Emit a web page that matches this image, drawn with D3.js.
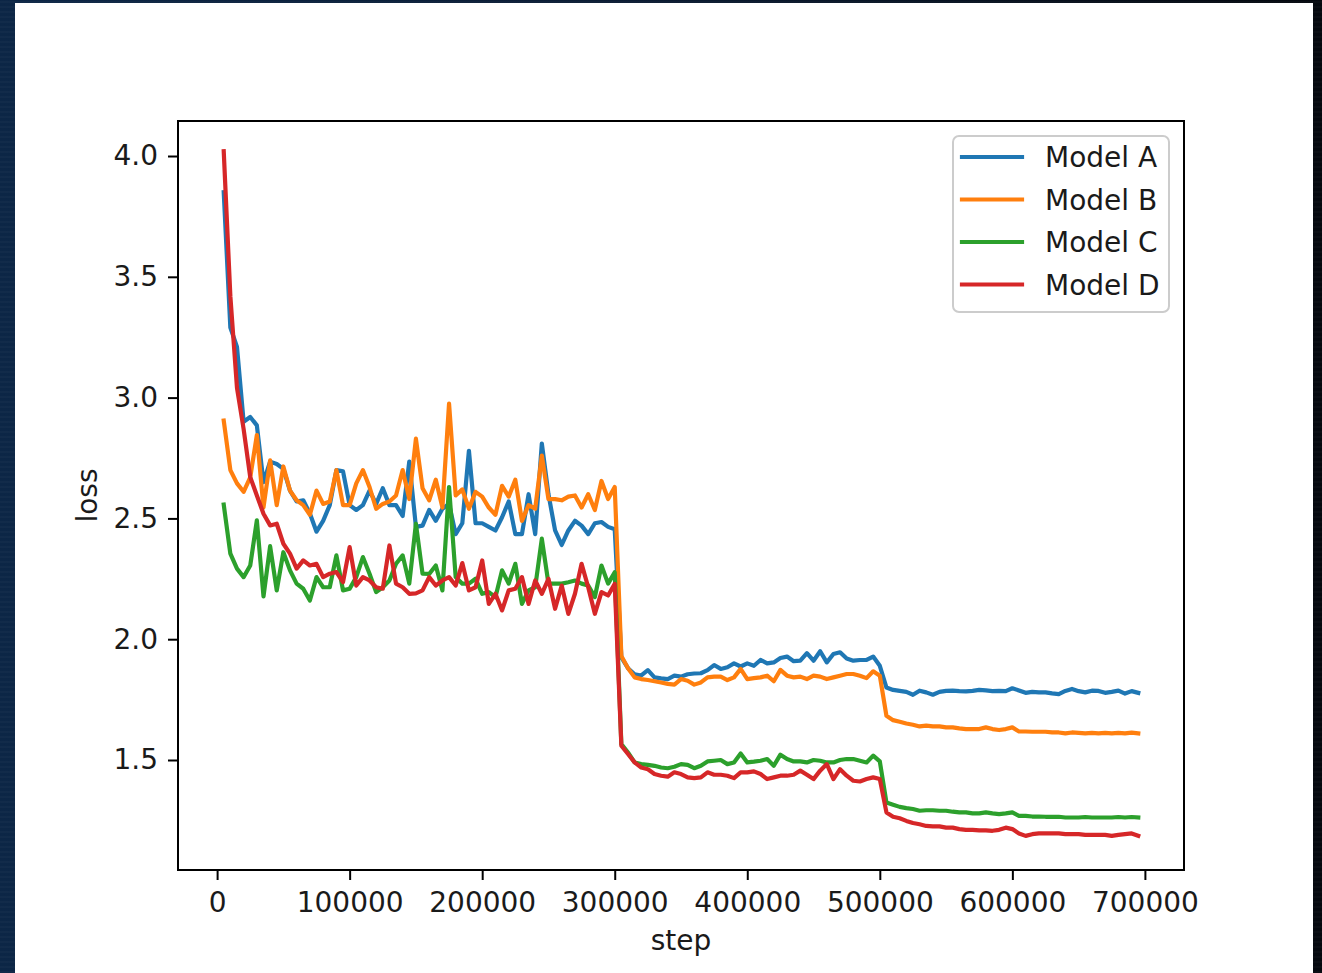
<!DOCTYPE html>
<html><head><meta charset="utf-8">
<script src="https://cdn.jsdelivr.net/npm/d3@7"></script>
<style>
html,body{margin:0;padding:0;}
body{width:1322px;height:973px;overflow:hidden;
background:repeating-linear-gradient(0deg,rgba(255,255,255,0.025) 0px,rgba(255,255,255,0.025) 2px,rgba(0,0,0,0) 2px,rgba(0,0,0,0) 5px),linear-gradient(90deg,#0c2646 0%,#0a1c34 45%,#04080e 100%);}
svg{display:block;}
</style></head><body>
<svg id="chart" width="1322" height="973"></svg>
<script>
const steps = d3.range(5000, 695001, 5000);

const modelA = [
3.85,3.29,3.21,2.90,2.92,2.885,2.65,2.735,2.725,2.705,
2.615,2.57,2.575,2.52,2.445,2.49,2.555,2.70,2.695,2.555,
2.535,2.555,2.615,2.56,2.625,2.555,2.555,2.51,2.735,2.465,
2.47,2.535,2.49,2.54,2.56,2.435,2.48,2.78,2.48,2.48,
2.465,2.45,2.505,2.57,2.435,2.435,2.60,2.435,2.81,2.60,
2.45,2.39,2.45,2.49,2.47,2.435,2.48,2.485,2.465,2.455,
1.925,1.88,1.855,1.85,1.872,1.842,1.838,1.835,1.849,1.845,
1.855,1.858,1.859,1.872,1.893,1.877,1.884,1.90,1.887,1.90,
1.89,1.914,1.90,1.904,1.922,1.928,1.909,1.911,1.942,1.911,
1.95,1.904,1.939,1.946,1.92,1.911,1.914,1.914,1.928,1.89,
1.80,1.79,1.786,1.782,1.77,1.787,1.78,1.77,1.782,1.786,
1.787,1.785,1.784,1.786,1.79,1.788,1.785,1.786,1.785,1.797,
1.788,1.778,1.782,1.78,1.78,1.776,1.773,1.786,1.794,1.785,
1.78,1.787,1.786,1.778,1.782,1.787,1.775,1.785,1.778];

const modelB = [
2.905,2.70,2.645,2.61,2.67,2.845,2.545,2.74,2.555,2.715,
2.615,2.575,2.555,2.515,2.615,2.56,2.57,2.70,2.555,2.555,
2.645,2.70,2.63,2.54,2.56,2.57,2.595,2.70,2.58,2.83,
2.625,2.575,2.66,2.545,2.975,2.595,2.62,2.54,2.61,2.59,
2.545,2.515,2.635,2.59,2.66,2.49,2.555,2.54,2.76,2.58,
2.58,2.575,2.59,2.595,2.545,2.60,2.535,2.655,2.58,2.63,
1.93,1.88,1.842,1.835,1.831,1.826,1.821,1.815,1.812,1.835,
1.828,1.812,1.821,1.842,1.845,1.845,1.831,1.842,1.877,1.835,
1.839,1.842,1.849,1.826,1.873,1.849,1.842,1.845,1.835,1.849,
1.845,1.835,1.842,1.849,1.856,1.856,1.849,1.839,1.867,1.849,
1.683,1.665,1.658,1.651,1.646,1.639,1.642,1.639,1.639,1.635,
1.635,1.631,1.628,1.628,1.628,1.635,1.628,1.624,1.628,1.635,
1.618,1.618,1.617,1.617,1.617,1.614,1.614,1.61,1.614,1.612,
1.61,1.612,1.61,1.612,1.61,1.612,1.61,1.613,1.61];

const modelC = [
2.557,2.354,2.292,2.257,2.305,2.492,2.177,2.385,2.202,2.36,
2.285,2.23,2.209,2.16,2.257,2.215,2.215,2.347,2.202,2.209,
2.257,2.34,2.271,2.195,2.215,2.243,2.312,2.347,2.23,2.478,
2.271,2.27,2.305,2.202,2.63,2.257,2.23,2.23,2.25,2.188,
2.195,2.174,2.285,2.23,2.312,2.146,2.202,2.215,2.416,2.23,
2.23,2.23,2.236,2.243,2.23,2.222,2.174,2.305,2.23,2.277,
1.566,1.531,1.49,1.483,1.48,1.476,1.469,1.466,1.472,1.483,
1.48,1.466,1.476,1.494,1.497,1.50,1.483,1.49,1.527,1.49,
1.493,1.497,1.504,1.476,1.522,1.504,1.494,1.494,1.49,1.50,
1.497,1.49,1.49,1.50,1.504,1.504,1.497,1.49,1.518,1.494,
1.324,1.315,1.306,1.301,1.297,1.29,1.292,1.292,1.29,1.29,
1.286,1.283,1.283,1.279,1.279,1.283,1.279,1.276,1.279,1.283,
1.269,1.269,1.266,1.266,1.265,1.265,1.265,1.262,1.262,1.262,
1.264,1.262,1.262,1.262,1.262,1.264,1.262,1.264,1.262];

const modelD = [
4.02,3.42,3.04,2.87,2.671,2.595,2.519,2.471,2.478,2.395,
2.354,2.292,2.326,2.305,2.312,2.257,2.271,2.278,2.236,2.381,
2.222,2.257,2.243,2.215,2.209,2.388,2.23,2.215,2.188,2.19,
2.202,2.257,2.222,2.243,2.257,2.222,2.315,2.202,2.215,2.326,
2.146,2.188,2.119,2.202,2.209,2.257,2.146,2.243,2.188,2.25,
2.126,2.222,2.105,2.188,2.312,2.215,2.105,2.195,2.181,2.229,
1.559,1.525,1.49,1.469,1.462,1.442,1.435,1.431,1.449,1.442,
1.428,1.425,1.428,1.449,1.439,1.439,1.435,1.425,1.449,1.449,
1.453,1.442,1.421,1.428,1.435,1.435,1.439,1.456,1.439,1.421,
1.456,1.483,1.421,1.462,1.435,1.414,1.411,1.421,1.428,1.421,
1.283,1.265,1.259,1.248,1.239,1.234,1.227,1.225,1.225,1.22,
1.22,1.214,1.211,1.211,1.209,1.209,1.207,1.211,1.22,1.214,
1.196,1.186,1.193,1.196,1.196,1.196,1.196,1.193,1.193,1.193,
1.19,1.19,1.19,1.19,1.186,1.19,1.193,1.196,1.186];

const seriesNames = ["Model A","Model B","Model C","Model D"];
const seriesColors = ["#1f77b4","#ff7f0e","#2ca02c","#d62728"];
const xTicks = [0,100000,200000,300000,400000,500000,600000,700000];
const yTicks = [1.5,2.0,2.5,3.0,3.5,4.0];
const xLabel = "step";
const yLabel = "loss";

const svg = d3.select("#chart");
const FONT = "'DejaVu Sans', sans-serif";
const FS = 28;
const L = 178, R = 1184, T = 121, B = 870;

svg.append("rect").attr("x",15).attr("y",3).attr("width",1298).attr("height",970).attr("fill","#ffffff");

const x = d3.scaleLinear().domain([-29500, 729500]).range([L, R]);
const y = d3.scaleLinear().domain([1.0447, 4.1449]).range([B, T]);

svg.append("clipPath").attr("id","clip").append("rect")
  .attr("x",L).attr("y",T).attr("width",R-L).attr("height",B-T);

const all = [modelA, modelB, modelC, modelD];
const line = d3.line().x((d,i)=>x(steps[i])).y(d=>y(d));
const g = svg.append("g").attr("clip-path","url(#clip)");
all.forEach((s,k)=>{
  g.append("path").datum(s).attr("d",line)
    .attr("fill","none").attr("stroke",seriesColors[k])
    .attr("stroke-width",4.2).attr("stroke-linejoin","round").attr("stroke-linecap","square");
});

// axes
const xAxis = d3.axisBottom(x).tickValues(xTicks).tickFormat(d3.format("d")).tickSize(10).tickPadding(12);
const yAxis = d3.axisLeft(y).tickValues(yTicks).tickFormat(d3.format(".1f")).tickSize(10).tickPadding(10);
const gx = svg.append("g").attr("transform",`translate(0,${B})`).call(xAxis);
const gy = svg.append("g").attr("transform",`translate(${L},0)`).call(yAxis);
[gx,gy].forEach(a=>{
  a.select(".domain").remove();
  a.selectAll(".tick line").attr("stroke","#000").attr("stroke-width",2);
  a.selectAll(".tick text").attr("fill","#1a1a1a").style("font-family",FONT).style("font-size",FS+"px");
  a.attr("font-family",null).attr("font-size",null);
});

// frame
svg.append("rect").attr("x",L).attr("y",T).attr("width",R-L).attr("height",B-T)
  .attr("fill","none").attr("stroke","#000").attr("stroke-width",2);

// axis labels
svg.append("text").attr("x",(L+R)/2).attr("y",950).attr("text-anchor","middle")
  .attr("fill","#1a1a1a").style("font-family",FONT).style("font-size",FS+"px").text(xLabel);
svg.append("text").attr("transform",`translate(97,${(T+B)/2}) rotate(-90)`).attr("text-anchor","middle")
  .attr("fill","#1a1a1a").style("font-family",FONT).style("font-size",FS+"px").text(yLabel);

// legend
const lg = svg.append("g");
lg.append("rect").attr("x",953).attr("y",136).attr("width",216).attr("height",176).attr("rx",6)
  .attr("fill","#ffffff").attr("fill-opacity",0.8).attr("stroke","#cccccc").attr("stroke-width",2);
const ly = [157,199.5,242,284.5];
seriesNames.forEach((n,k)=>{
  lg.append("line").attr("x1",962).attr("x2",1022).attr("y1",ly[k]).attr("y2",ly[k])
    .attr("stroke",seriesColors[k]).attr("stroke-width",4.2).attr("stroke-linecap","square");
  lg.append("text").attr("x",1045).attr("y",ly[k]+10).attr("fill","#1a1a1a")
    .style("font-family",FONT).style("font-size",FS+"px").text(n);
});
</script>
</body></html>
